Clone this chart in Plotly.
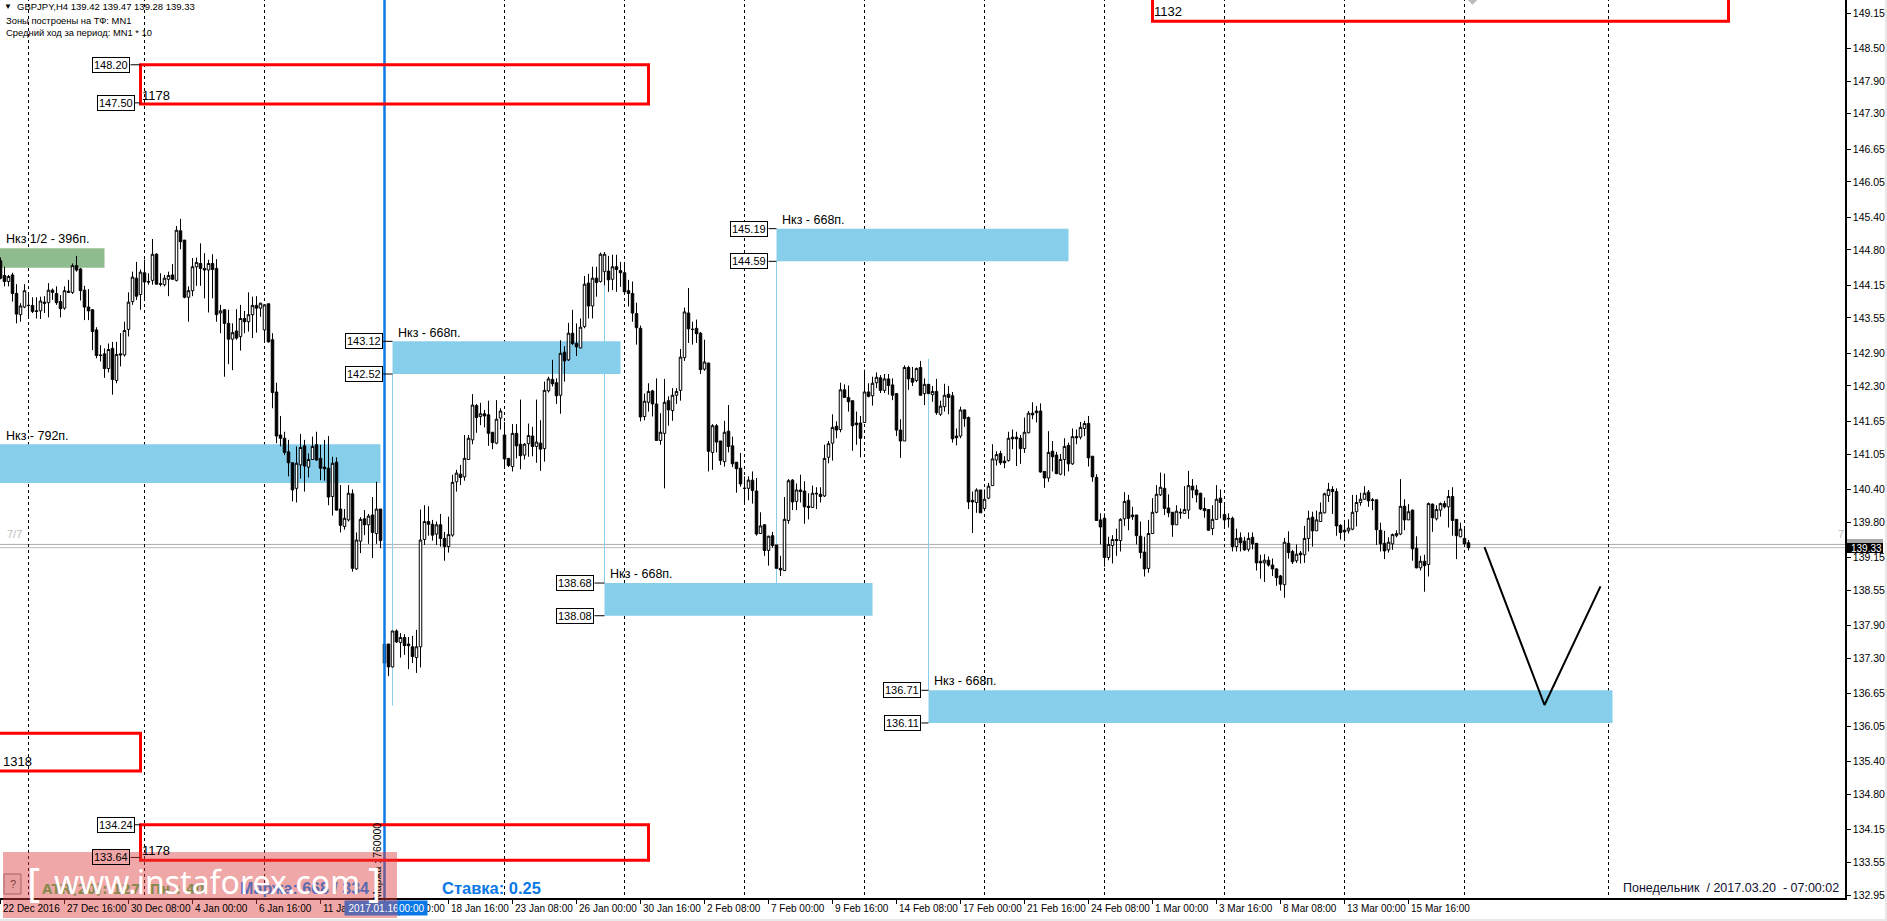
import plotly.graph_objects as go

# GBPJPY H4 bars
opens = [
    144.60, 144.33, 144.22, 144.34, 144.00, 143.61, 143.75, 143.78, 143.78, 143.68,
    143.68, 143.84, 143.83, 144.06, 144.00, 143.85, 143.73, 144.04, 144.02, 144.51,
    144.45, 144.06, 143.75, 143.70, 143.33, 142.87, 142.89, 142.62, 142.99, 142.40,
    142.89, 142.87, 143.34, 143.85, 144.28, 143.98, 144.38, 144.22, 144.24, 144.72,
    144.18, 144.16, 144.26, 144.34, 144.24, 145.15, 144.98, 143.93, 144.05, 144.49,
    144.55, 144.46, 144.43, 144.55, 144.46, 143.64, 143.70, 143.45, 143.16, 143.31,
    143.21, 143.54, 143.48, 143.61, 143.78, 143.73, 143.33, 143.81, 143.15, 142.19,
    141.40, 141.34, 141.09, 140.89, 140.42, 140.85, 141.20, 140.81, 140.95, 141.22,
    140.97, 140.81, 140.79, 140.27, 140.90, 140.04, 139.72, 139.84, 140.32, 138.94,
    139.45, 139.86, 139.75, 139.93, 139.59, 140.04, 137.56, 137.56, 137.14, 137.80,
    137.59, 137.68, 137.56, 137.51, 137.31, 137.51, 139.48, 139.81, 139.76, 139.58,
    139.75, 139.50, 139.35, 139.56, 140.54, 140.68, 140.63, 140.95, 141.31, 141.94,
    141.74, 141.79, 141.77, 141.45, 141.25, 141.71, 141.40, 140.97, 140.82, 141.43,
    141.23, 141.03, 141.24, 141.38, 141.19, 141.25, 141.15, 142.21, 142.42, 142.36,
    142.13, 142.92, 142.78, 143.27, 143.08, 143.00, 143.39, 144.19, 143.77, 144.28,
    144.22, 144.40, 144.41, 144.26, 144.49, 144.42, 144.38, 144.05, 144.00, 143.63,
    143.36, 141.74, 142.00, 142.21, 141.97, 141.30, 141.43, 142.03, 141.85, 142.13,
    142.22, 142.82, 143.64, 143.34, 143.36, 143.27, 142.61, 142.72, 141.08, 141.57,
    141.29, 140.91, 141.47, 141.20, 140.90, 140.79, 140.42, 140.42, 140.57, 140.37,
    139.59, 139.75, 139.28, 139.55, 139.38, 138.95, 138.91, 139.83, 140.57, 140.18,
    140.39, 140.37, 140.09, 140.07, 140.33, 140.31, 140.28, 140.99, 141.25, 141.56,
    141.50, 142.23, 142.09, 142.03, 141.62, 141.62, 141.63, 142.19, 142.12, 142.36,
    142.45, 142.22, 142.43, 142.32, 142.16, 141.49, 141.29, 142.64, 142.44, 142.40,
    142.64, 142.16, 142.33, 142.14, 142.20, 141.78, 141.92, 142.15, 142.12, 141.38,
    141.38, 141.86, 141.72, 140.20, 140.16, 140.39, 140.05, 140.24, 140.47, 140.94,
    141.06, 140.92, 140.93, 141.36, 141.36, 141.34, 141.15, 141.44, 141.80, 141.84,
    141.84, 140.73, 140.61, 141.10, 141.03, 140.68, 140.95, 141.21, 140.87, 141.37,
    141.36, 141.52, 141.61, 141.01, 140.62, 139.84, 139.87, 139.15, 139.37, 139.48,
    139.46, 139.86, 140.20, 139.93, 139.93, 139.54, 139.25, 138.95, 139.59, 139.98,
    140.30, 140.42, 140.06, 139.98, 139.75, 139.98, 139.96, 140.02, 140.46, 140.39,
    140.33, 140.05, 140.03, 139.68, 139.85, 140.24, 139.94, 139.87, 139.87, 139.35,
    139.51, 139.45, 139.30, 139.52, 139.41, 139.08, 139.05, 139.10, 139.01, 138.94,
    138.81, 138.65, 139.41, 139.26, 139.09, 139.23, 139.20, 139.50, 139.89, 139.64,
    139.81, 139.97, 140.29, 140.40, 140.36, 139.74, 139.65, 139.64, 139.67, 139.99,
    140.16, 140.22, 140.35, 140.21, 140.21, 139.65, 139.41, 139.29, 139.40, 139.55,
    139.58, 140.09, 139.84, 140.02, 139.32, 138.96, 139.08, 139.02, 140.13, 139.86,
    140.02, 140.14, 140.08, 140.27, 139.85, 139.53, 139.50, 139.42,
]
highs = [
    144.66, 144.49, 144.34, 144.38, 144.17, 143.82, 144.17, 143.99, 143.93, 143.93,
    143.94, 143.95, 144.19, 144.09, 144.13, 143.97, 144.13, 144.25, 144.55, 144.69,
    144.47, 144.14, 144.08, 143.71, 143.38, 143.05, 142.99, 143.08, 143.11, 143.11,
    143.27, 143.48, 144.02, 144.40, 144.58, 144.44, 144.62, 144.37, 145.00, 144.74,
    144.37, 144.34, 144.40, 144.54, 145.24, 145.37, 144.98, 144.13, 144.65, 144.66,
    144.92, 144.74, 144.62, 144.72, 144.63, 143.79, 143.71, 143.70, 143.45, 143.71,
    143.79, 143.68, 144.02, 143.94, 143.95, 143.83, 143.80, 143.81, 143.27, 142.36,
    141.75, 141.46, 141.31, 140.89, 141.19, 141.42, 141.31, 141.06, 141.37, 141.46,
    141.22, 141.31, 141.38, 141.00, 140.99, 140.48, 140.04, 140.48, 140.40, 139.61,
    139.89, 140.02, 139.95, 140.26, 140.54, 140.04, 137.56, 137.56, 137.80, 137.83,
    137.76, 137.74, 137.69, 137.71, 137.82, 140.03, 140.11, 140.09, 139.84, 139.81,
    139.95, 139.62, 139.90, 140.67, 140.76, 140.85, 141.40, 141.40, 142.15, 141.97,
    141.99, 141.86, 142.03, 141.45, 142.04, 141.89, 141.64, 140.97, 141.60, 141.60,
    142.05, 141.25, 141.61, 141.55, 142.05, 141.67, 142.38, 142.47, 142.78, 142.44,
    143.14, 143.03, 143.46, 143.70, 143.45, 143.54, 144.32, 144.36, 144.49, 144.49,
    144.75, 144.76, 144.69, 144.71, 144.71, 144.58, 144.58, 144.25, 144.22, 143.83,
    143.41, 142.16, 142.35, 142.23, 142.44, 141.80, 142.43, 142.11, 142.26, 142.26,
    142.98, 143.74, 144.10, 143.48, 143.52, 143.29, 143.15, 142.73, 141.60, 141.60,
    141.29, 141.66, 141.95, 141.37, 140.90, 141.07, 140.64, 140.64, 140.73, 140.61,
    139.98, 139.76, 139.55, 139.62, 139.38, 139.18, 140.26, 140.59, 140.59, 140.51,
    140.67, 140.55, 140.33, 140.47, 140.44, 140.44, 141.22, 141.29, 141.78, 141.65,
    142.36, 142.33, 142.31, 142.03, 141.83, 141.75, 142.60, 142.35, 142.47, 142.55,
    142.50, 142.52, 142.52, 142.44, 142.16, 141.69, 142.68, 142.67, 142.65, 142.64,
    142.76, 142.44, 142.33, 142.30, 142.43, 142.03, 142.34, 142.30, 142.19, 141.52,
    141.92, 141.87, 141.74, 140.36, 140.42, 140.39, 140.40, 140.52, 141.23, 141.10,
    141.11, 141.01, 141.46, 141.50, 141.46, 141.40, 141.72, 141.84, 142.00, 141.93,
    141.98, 140.74, 141.47, 141.29, 141.09, 141.05, 141.34, 141.26, 141.52, 141.50,
    141.64, 141.66, 141.75, 141.01, 140.68, 139.96, 139.96, 139.53, 139.56, 139.68,
    139.87, 140.35, 140.30, 140.08, 139.93, 139.81, 139.53, 139.84, 140.24, 140.48,
    140.71, 140.69, 140.31, 139.98, 140.11, 140.05, 140.46, 140.74, 140.59, 140.48,
    140.34, 140.25, 140.03, 140.11, 140.48, 140.40, 140.11, 139.96, 139.90, 139.68,
    139.61, 139.53, 139.61, 139.61, 139.41, 139.20, 139.21, 139.17, 139.13, 138.95,
    138.83, 139.51, 139.63, 139.29, 139.39, 139.27, 139.73, 140.01, 139.99, 140.01,
    140.16, 140.34, 140.52, 140.46, 140.42, 139.76, 139.84, 139.85, 140.30, 140.30,
    140.34, 140.46, 140.39, 140.24, 140.21, 139.79, 139.64, 139.52, 139.59, 139.65,
    140.59, 140.22, 140.13, 140.03, 139.54, 139.18, 139.20, 140.16, 140.14, 140.11,
    140.16, 140.19, 140.39, 140.44, 139.85, 139.79, 139.72, 139.47,
]
lows = [
    144.26, 144.13, 144.13, 143.85, 143.45, 143.48, 143.73, 143.54, 143.64, 143.54,
    143.53, 143.64, 143.56, 143.88, 143.79, 143.56, 143.70, 144.02, 143.99, 144.40,
    143.87, 143.51, 143.51, 142.96, 142.81, 142.75, 142.45, 142.55, 142.14, 142.35,
    142.66, 142.84, 143.21, 143.79, 143.88, 143.70, 143.88, 144.16, 144.16, 144.16,
    144.13, 144.13, 143.95, 144.25, 144.22, 144.81, 143.91, 143.48, 143.95, 144.14,
    144.14, 143.91, 143.65, 143.91, 143.48, 143.27, 142.47, 142.70, 142.59, 143.15,
    142.95, 143.27, 143.30, 143.18, 143.28, 143.57, 143.11, 143.10, 141.89, 141.25,
    141.19, 141.03, 140.64, 140.18, 140.16, 140.60, 140.36, 140.62, 140.94, 140.93,
    140.57, 140.56, 140.11, 139.92, 140.01, 139.61, 139.66, 139.81, 138.89, 138.92,
    139.23, 139.56, 139.40, 139.14, 139.40, 139.32, 137.19, 136.97, 137.13, 137.58,
    137.31, 137.36, 137.10, 137.21, 137.03, 137.13, 139.38, 139.55, 139.46, 139.38,
    139.35, 139.09, 139.24, 139.53, 140.36, 140.48, 140.56, 140.94, 141.23, 141.44,
    141.58, 141.54, 141.20, 141.14, 141.23, 141.50, 140.82, 140.81, 140.73, 140.97,
    140.77, 140.95, 141.00, 141.01, 140.89, 140.74, 140.91, 142.18, 142.29, 141.97,
    141.79, 142.38, 142.76, 143.05, 142.85, 142.99, 143.36, 143.54, 143.54, 143.94,
    144.20, 144.15, 144.03, 144.06, 144.03, 144.12, 144.00, 143.76, 143.48, 143.06,
    141.65, 141.67, 141.83, 141.74, 141.30, 141.22, 140.42, 141.57, 141.66, 141.97,
    142.03, 142.76, 143.09, 143.06, 143.09, 142.52, 142.58, 140.73, 140.76, 141.08,
    140.85, 140.82, 141.08, 140.81, 140.34, 140.45, 140.12, 140.20, 140.14, 139.55,
    139.58, 139.18, 139.00, 139.33, 138.95, 138.81, 138.90, 139.77, 140.02, 140.02,
    140.16, 139.77, 139.85, 140.06, 140.04, 140.16, 140.26, 140.88, 140.93, 141.34,
    141.45, 142.09, 141.83, 141.11, 141.22, 140.99, 141.62, 142.09, 141.94, 142.26,
    142.17, 142.17, 142.14, 142.04, 141.38, 140.98, 141.29, 142.23, 142.30, 142.37,
    142.12, 141.95, 142.16, 142.01, 141.77, 141.75, 141.83, 141.78, 141.26, 141.21,
    141.34, 141.55, 140.04, 139.60, 139.97, 139.97, 140.00, 140.22, 140.47, 140.84,
    140.85, 140.79, 140.91, 141.14, 140.83, 140.87, 141.07, 141.43, 141.69, 141.63,
    140.71, 140.43, 140.54, 140.73, 140.68, 140.66, 140.65, 140.73, 140.85, 141.23,
    141.32, 141.38, 140.82, 140.54, 139.83, 139.39, 138.98, 139.10, 139.04, 139.18,
    139.26, 139.73, 139.65, 139.84, 139.39, 139.13, 138.80, 138.87, 139.58, 139.96,
    140.28, 139.93, 139.89, 139.53, 139.75, 139.86, 139.96, 139.86, 140.24, 140.16,
    140.02, 139.88, 139.64, 139.56, 139.84, 139.87, 139.68, 139.70, 139.26, 139.26,
    139.26, 139.27, 139.26, 139.30, 138.91, 138.76, 138.70, 138.98, 138.81, 138.63,
    138.54, 138.41, 139.13, 139.03, 139.05, 139.04, 139.05, 139.26, 139.35, 139.64,
    139.81, 139.96, 140.17, 139.95, 139.55, 139.48, 139.46, 139.59, 139.65, 139.72,
    140.10, 140.21, 140.08, 140.02, 139.38, 139.26, 139.12, 139.24, 139.29, 139.52,
    139.56, 139.65, 139.84, 139.09, 138.95, 138.91, 138.52, 138.80, 139.62, 139.83,
    139.90, 140.05, 139.70, 139.55, 139.12, 139.52, 139.36, 139.28,
]
closes = [
    144.28, 144.22, 144.31, 144.00, 143.62, 143.77, 144.05, 143.78, 143.67, 143.67,
    143.86, 143.82, 144.06, 144.02, 143.83, 143.72, 144.05, 144.02, 144.51, 144.43,
    144.05, 143.75, 143.68, 143.30, 142.86, 142.86, 142.62, 142.97, 142.42, 142.88,
    142.87, 143.32, 143.84, 144.30, 143.95, 144.39, 144.21, 144.21, 144.72, 144.17,
    144.17, 144.28, 144.33, 144.26, 145.16, 144.95, 143.93, 144.05, 144.49, 144.57,
    144.46, 144.43, 144.55, 144.44, 143.61, 143.68, 143.45, 143.16, 143.28, 143.18,
    143.54, 143.48, 143.61, 143.78, 143.73, 143.82, 143.79, 143.11, 142.18, 141.38,
    141.34, 141.08, 140.89, 140.39, 140.88, 141.17, 140.83, 140.95, 141.19, 140.94,
    140.79, 140.78, 140.26, 140.88, 140.02, 139.74, 139.87, 140.33, 138.95, 139.47,
    139.85, 139.75, 139.91, 139.61, 140.04, 139.46, 137.21, 137.14, 137.80, 137.60,
    137.68, 137.53, 137.53, 137.33, 137.51, 139.47, 139.81, 139.76, 139.56, 139.75,
    139.50, 139.35, 139.57, 140.53, 140.70, 140.62, 140.97, 141.34, 141.95, 141.72,
    141.79, 141.75, 141.43, 141.26, 141.69, 141.84, 140.96, 140.84, 141.43, 141.20,
    141.02, 141.23, 141.39, 141.19, 141.27, 141.14, 142.22, 142.43, 142.34, 142.12,
    142.90, 142.76, 143.27, 143.08, 143.02, 143.38, 144.17, 143.77, 144.28, 144.20,
    144.72, 144.72, 144.25, 144.49, 144.44, 144.38, 144.03, 144.00, 143.64, 143.37,
    141.73, 142.02, 142.20, 141.97, 141.30, 141.45, 142.00, 141.86, 142.13, 142.20,
    142.83, 143.66, 143.35, 143.34, 143.26, 142.60, 142.74, 141.10, 141.57, 141.27,
    140.93, 141.45, 141.19, 140.87, 140.78, 140.50, 140.42, 140.57, 140.38, 139.58,
    139.73, 139.28, 139.54, 139.37, 138.95, 138.92, 139.85, 140.56, 140.17, 140.39,
    140.36, 140.08, 140.07, 140.33, 140.32, 140.27, 140.97, 141.24, 141.54, 141.49,
    142.23, 142.09, 142.01, 141.57, 141.59, 141.34, 142.19, 142.11, 142.35, 142.46,
    142.22, 142.43, 142.31, 142.13, 141.49, 141.29, 142.64, 142.43, 142.37, 142.62,
    142.13, 142.33, 142.16, 142.20, 141.81, 141.93, 142.13, 142.09, 141.33, 141.35,
    141.86, 141.70, 140.17, 140.17, 140.39, 139.97, 140.22, 140.46, 140.96, 141.04,
    140.89, 140.89, 141.34, 141.33, 141.33, 141.15, 141.45, 141.80, 141.77, 141.81,
    140.72, 140.61, 141.08, 141.00, 140.69, 140.95, 141.19, 140.87, 141.37, 141.35,
    141.54, 141.61, 140.98, 140.63, 139.83, 139.71, 139.15, 139.39, 139.48, 139.46,
    139.85, 140.18, 139.87, 139.90, 139.55, 139.24, 138.94, 139.59, 139.98, 140.31,
    140.44, 140.05, 139.97, 139.75, 140.00, 139.97, 140.03, 140.47, 140.39, 140.30,
    140.04, 140.01, 139.65, 139.85, 140.22, 140.16, 139.84, 139.86, 139.35, 139.50,
    139.42, 139.29, 139.50, 139.40, 139.05, 139.05, 139.10, 139.01, 138.94, 138.78,
    138.66, 139.43, 139.24, 139.07, 139.21, 139.20, 139.50, 139.87, 139.64, 139.84,
    139.98, 140.32, 140.40, 140.36, 139.73, 139.61, 139.62, 139.69, 139.98, 140.16,
    140.22, 140.33, 140.19, 140.20, 139.66, 139.40, 139.27, 139.43, 139.57, 139.59,
    140.09, 139.84, 139.99, 139.31, 138.96, 139.08, 139.00, 140.14, 139.88, 140.03,
    140.14, 140.08, 140.27, 139.83, 139.55, 139.67, 139.40, 139.33,
]

price_ticks = [149.15, 148.50, 147.90, 147.30, 146.65, 146.05, 145.40, 144.80, 144.15,
               143.55, 142.90, 142.30, 141.65, 141.05, 140.40, 139.80, 139.15, 138.55,
               137.90, 137.30, 136.65, 136.05, 135.40, 134.80, 134.15, 133.55, 132.95]
time_labels = ["22 Dec 2016", "27 Dec 16:00", "30 Dec 08:00", "4 Jan 00:00", "6 Jan 16:00",
               "11 Jan 08:00", "16 Jan 00:00", "18 Jan 16:00", "23 Jan 08:00", "26 Jan 00:00",
               "30 Jan 16:00", "2 Feb 08:00", "7 Feb 00:00", "9 Feb 16:00", "14 Feb 08:00",
               "17 Feb 00:00", "21 Feb 16:00", "24 Feb 08:00", "1 Mar 00:00", "3 Mar 16:00",
               "8 Mar 08:00", "13 Mar 00:00", "15 Mar 16:00"]
separator_bars = [7, 36, 66, 126, 156, 186, 216, 246, 276, 306, 336, 366, 402]

# zones: bar start, bar end, top price, bottom price, label
zone_starts = [-1, 98, 194, 151, 232]
zone_ends = [95, 155, 267, 218, 403]
zone_tops = [141.23, 143.12, 145.19, 138.68, 136.71]
zone_bottoms = [140.52, 142.52, 144.59, 138.08, 136.11]

green_zone_end = 26
green_zone_top = 144.83
green_zone_bottom = 144.47

red_starts = [35, 35, -3, 288]
red_ends = [162, 162, 35, 432]
red_tops = [148.20, 134.24, 135.92, 150.0]
red_bottoms = [147.48, 133.59, 135.23, 149.00]

path_bars = [371, 386, 400]
path_prices = [139.34, 136.44, 138.62]

W, H = 1887, 921
PW, PH = 1845, 898   # plot area in pixels


def ax(px):
    return px / PW


def ay(py):
    return 1 - py / PH


fig = go.Figure()
fig.add_trace(go.Candlestick(
    x=list(range(len(opens))), open=opens, high=highs, low=lows, close=closes,
    increasing=dict(line=dict(color="black", width=1), fillcolor="white"),
    decreasing=dict(line=dict(color="black", width=1), fillcolor="black"),
    whiskerwidth=0, hoverinfo="skip",
))
fig.add_trace(go.Scatter(x=path_bars, y=path_prices, mode="lines",
                         line=dict(color="black", width=2), hoverinfo="skip"))
# the grey diamond cut by the top edge
fig.add_trace(go.Scatter(x=[368], y=[149.41], mode="markers",
                         marker=dict(symbol="diamond", size=9, color="#bbbbbb"), hoverinfo="skip"))

shapes = []
# blue and green zones behind everything
for s, e, t, b in zip(zone_starts, zone_ends, zone_tops, zone_bottoms):
    shapes.append(dict(type="rect", xref="x", yref="y", x0=s, x1=e, y0=b, y1=t,
                       fillcolor="#87CEEB", line_width=0, layer="below"))
shapes.append(dict(type="rect", xref="x", yref="y", x0=-1, x1=green_zone_end,
                   y0=green_zone_bottom, y1=green_zone_top,
                   fillcolor="#8FBC8F", line_width=0, layer="below"))
# thin zone verticals
for bar, p0, p1 in [(98, 142.52, 136.43), (194, 144.59, 138.68),
                    (151, 138.68, 144.76), (232, 136.71, 142.80)]:
    shapes.append(dict(type="line", xref="x", yref="y", x0=bar, x1=bar, y0=p0, y1=p1,
                       line=dict(color="#87CEEB", width=1), layer="below"))
# bid / ask
shapes.append(dict(type="line", xref="paper", yref="y", x0=0, x1=1, y0=139.39, y1=139.39,
                   line=dict(color="#aaaaaa", width=1), layer="below"))
shapes.append(dict(type="line", xref="paper", yref="y", x0=0, x1=1, y0=139.33, y1=139.33,
                   line=dict(color="#bbbbbb", width=1), layer="below"))
# period separators
for bar in separator_bars:
    shapes.append(dict(type="line", xref="x", yref="paper", x0=bar, x1=bar, y0=ay(895), y1=1,
                       line=dict(color="black", width=1, dash="3px,3px"), layer="below"))
shapes.append(dict(type="line", xref="x", yref="paper", x0=96, x1=96, y0=0, y1=1,
                   line=dict(color="#0a78e6", width=2.5), layer="above"))
# red boxes
for s, e, t, b in zip(red_starts, red_ends, red_tops, red_bottoms):
    shapes.append(dict(type="rect", xref="x", yref="y", x0=s, x1=e, y0=b, y1=t,
                       line=dict(color="#ff0000", width=3), fillcolor="rgba(0,0,0,0)", layer="above"))
# price connectors
for bar0, bar1, p in [(32.5, 35, 148.20), (33.5, 35, 147.50), (33.5, 35, 134.24), (32.5, 35, 133.64),
                      (95.7, 98, 143.12), (95.7, 98, 142.52), (192, 194, 145.19), (192, 194, 144.59),
                      (148.5, 151, 138.68), (148.5, 151, 138.08), (230.2, 232, 136.71), (230.2, 232, 136.11)]:
    shapes.append(dict(type="line", xref="x", yref="y", x0=bar0, x1=bar1, y0=p, y1=p,
                       line=dict(color="black", width=1), layer="above"))
# right side price flags
shapes.append(dict(type="rect", xref="paper", yref="paper", x0=ax(1847), x1=ax(1883), y0=ay(539), y1=ay(548),
                   fillcolor="#aaaaaa", line_width=0, layer="above"))
shapes.append(dict(type="rect", xref="paper", yref="paper", x0=ax(1847), x1=ax(1883), y0=ay(543), y1=ay(553),
                   fillcolor="black", line_width=0, layer="above"))
# window edge
shapes.append(dict(type="rect", xref="paper", yref="paper", x0=ax(1885), x1=ax(1887), y0=ay(0), y1=ay(921),
                   fillcolor="#e8e8e8", line_width=0, layer="above"))
shapes.append(dict(type="rect", xref="paper", yref="paper", x0=0, x1=ax(1887), y0=ay(919), y1=ay(921),
                   fillcolor="#e8e8e8", line_width=0, layer="above"))
# "?" button, then the watermark over it all
shapes.append(dict(type="rect", xref="paper", yref="paper", x0=ax(4), x1=ax(21), y0=ay(874), y1=ay(894),
                   fillcolor="#f0f0f0", line=dict(color="#808080", width=1), layer="above"))
shapes.append(dict(type="rect", xref="paper", yref="paper", x0=ax(3), x1=ax(397), y0=ay(852), y1=ay(918),
                   fillcolor="rgba(222,60,60,0.45)", line_width=0, layer="above"))

TF = "Liberation Sans"
ann = []


def text(px, py, s, size=12, color="black", family=TF, anchor="left", **kw):
    ann.append(dict(xref="paper", yref="paper", x=ax(px), y=ay(py), text=s, showarrow=False,
                    xanchor=anchor, yanchor="middle", font=dict(family=family, size=size, color=color), **kw))


def pricebox(right_px, price, bg="white"):
    ann.append(dict(xref="paper", yref="y", x=ax(right_px), y=price, text=f"{price:.2f}", showarrow=False,
                    xanchor="right", yanchor="middle", bgcolor=bg, bordercolor="black", borderwidth=1, borderpad=1,
                    font=dict(family=TF, size=11, color="black")))


for k, label in enumerate(time_labels):
    text(64 * k + 1, 908, label, size=10)

# hovered date flag sits over the time labels
text(344, 908, "2017.01.16", size=10, color="white", bgcolor="#5a69b0", width=53, height=12, align="right")
text(397, 908, "00:00", size=10, color="white", bgcolor="#0a78e6", width=27, height=12, align="left")

text(2, 7, "▼", size=8)
text(15, 7, "GBPJPY,H4 139.42 139.47 139.28 139.33", size=9.5)
text(4, 20, "Зоны построены на ТФ: MN1", size=9.4)
text(4, 32, "Средний ход за период: MN1 * 10", size=9.4)

text(4, 239, "Нкз 1/2 - 396п.", size=12.5)
text(4, 436, "Нкз - 792п.", size=12.5)
text(396, 333, "Нкз - 668п.", size=12.5)
text(780, 220, "Нкз - 668п.", size=12.5)
text(608, 574, "Нкз - 668п.", size=12.5)
text(932, 681, "Нкз - 668п.", size=12.5)

text(140, 95, "1178", size=13)
text(140, 850, "1178", size=13)
text(1, 761, "1318", size=13)
text(1152, 11, "1132", size=13)

pricebox(130, 148.20)
pricebox(135, 147.50)
pricebox(135, 134.24)
pricebox(130, 133.64, bg="#eea6a6")
pricebox(383, 143.12)
pricebox(383, 142.52)
pricebox(768, 145.19)
pricebox(768, 144.59)
pricebox(594, 138.68)
pricebox(594, 138.08)
pricebox(921, 136.71)
pricebox(921, 136.11)

text(5, 534, "7/7", size=11, color="#bbbbbb")
text(1836, 534, "7", size=11, color="#bbbbbb")
text(1849, 548, "139.33", size=10, color="white")

text(1621, 888, "Понедельник\u00a0 / 2017.03.20\u00a0 - 07:00:02", size=12.5, color="#101030")

text(12.5, 884, "?", size=11, color="#804040", anchor="center")
text(40, 889, "ATR(20): 127  Пн.: 40", size=13.5, color="#8a8a50", family="DejaVu Sans")
ann[-1]["font"]["weight"] = "bold"
text(238, 888, "Маржа: 668 / 334", size=16, color="#5a69b0")
ann[-1]["font"]["weight"] = "bold"
text(440, 888, "Ставка: 0.25", size=16.5, color="#0a78e6")
ann[-1]["font"]["weight"] = "bold"
text(377, 862, "Маржа : 760000", size=10.5, anchor="center", textangle=-90)
text(25, 881, "[", size=40, color="white", family="Noto Sans")
text(52, 881, "www.instaforex.com", size=32, color="white", family="Noto Sans")
text(366, 881, "]", size=40, color="white", family="Noto Sans")

fig.update_layout(
    width=W, height=H,
    paper_bgcolor="white", plot_bgcolor="white",
    margin=dict(l=0, r=W - PW, t=0, b=H - PH),
    showlegend=False,
    boxgap=0.1,
    shapes=shapes, annotations=ann,
    xaxis=dict(range=[-0.125, 461.125], rangeslider=dict(visible=False), showgrid=False, zeroline=False,
               showline=True, linecolor="black", linewidth=1.5, ticks="outside", ticklen=4,
               tickcolor="black", tickvals=[16 * k for k in range(len(time_labels))],
               showticklabels=False),
    yaxis=dict(range=[132.895, 149.39], side="right", showgrid=False, zeroline=False,
               showline=True, linecolor="black", linewidth=1.5, ticks="outside", ticklen=4,
               tickcolor="black", tickvals=price_ticks, ticktext=[f"{v:.2f}" for v in price_ticks],
               tickfont=dict(family=TF, size=10.5, color="black")),
)

fig.write_html("out.html", config=dict(displayModeBar=False),
               post_script="document.body.style.margin='0';")
